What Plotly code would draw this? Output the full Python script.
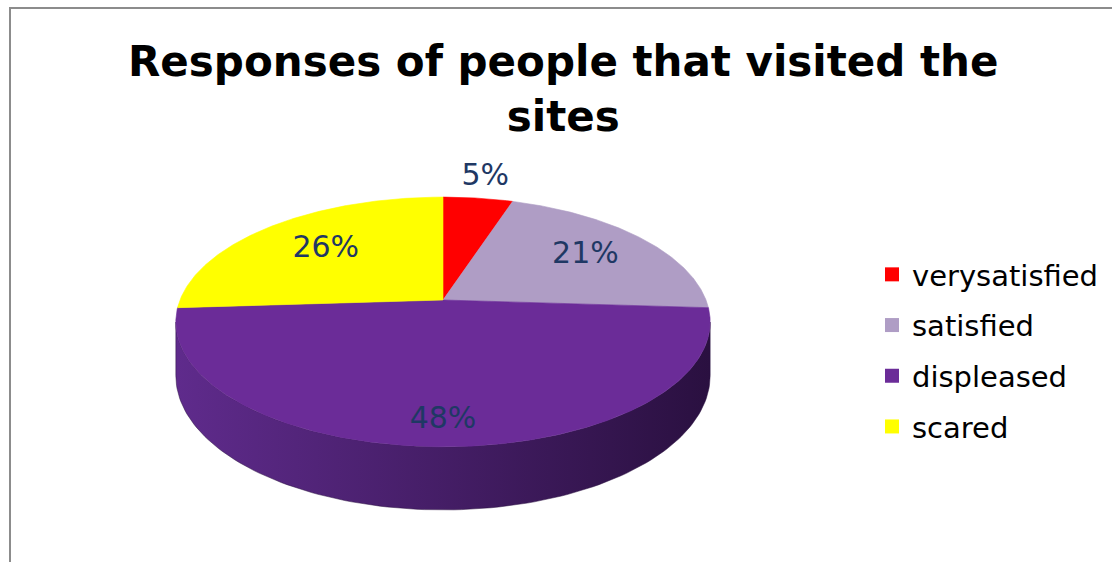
import numpy as np
import plotly.graph_objects as go

# ---- data ----
categories = ["verysatisfied", "satisfied", "displeased", "scared"]
values = [5, 21, 48, 26]
title_text = "Responses of people that visited the<br>sites"

# ---- styles ----
top_colors = ["#FF0000", "#AF9DC5", "#6B2C98", "#FFFF00"]
side_colors = [("#C00000", "#800000"), ("#8A7AA0", "#5A4D6B"),
               ("#5F2B8C", "#2A1040"), ("#C8C800", "#8A8A00")]
label_r = [1.25, 0.70, 0.85, 0.66]
label_color = "#1F3864"
FONT = "DejaVu Sans, Verdana, sans-serif"

W, H = 1112, 562
CX, CY = 443, 300          # pie apex in pixel space
BX, AY = 263, 121          # horizontal / vertical radii
K = 0.176                  # perspective factor
DEPTH = 52                 # pie thickness


def proj(theta_deg, r=1.0):
    t = np.radians(theta_deg)
    u = r * np.sin(t)
    v = r * np.cos(t)
    d = 1 + K * v
    return CX + BX * u / d, CY - AY * v / d, d


total = float(sum(values))
bounds = np.concatenate([[0], np.cumsum(values)]) / total * 360.0
theta_w = np.degrees(np.arccos(-K))   # silhouette angle of the rim

fig = go.Figure()

# sides (visible front part only, drawn first)
for i, cat in enumerate(categories):
    lo = max(bounds[i], theta_w)
    hi = min(bounds[i + 1], 360.0 - theta_w)
    if lo >= hi:
        continue
    th = np.linspace(lo, hi, 120)
    xt, yt, d = proj(th)
    yb = yt + DEPTH / d
    xs = np.concatenate([xt, xt[::-1], xt[:1]])
    ys = np.concatenate([yt, yb[::-1], yt[:1]])
    fig.add_trace(go.Scatter(
        x=xs, y=ys, mode="lines", fill="toself",
        line=dict(width=0.5, color=side_colors[i][1]),
        fillgradient=dict(type="horizontal",
                          colorscale=[[0, side_colors[i][0]], [1, side_colors[i][1]]]),
        hoverinfo="skip", showlegend=False))

# top faces
for i, cat in enumerate(categories):
    n = max(int((bounds[i + 1] - bounds[i]) * 2), 10)
    th = np.linspace(bounds[i], bounds[i + 1], n)
    xa, ya, _ = proj(th)
    xs = np.concatenate([[CX], xa, [CX]])
    ys = np.concatenate([[CY], ya, [CY]])
    fig.add_trace(go.Scatter(
        x=xs, y=ys, mode="lines", fill="toself", fillcolor=top_colors[i],
        line=dict(width=0.6, color=top_colors[i]),
        name=cat, hoverinfo="name", showlegend=False))

# data labels
mids = (bounds[:-1] + bounds[1:]) / 2
lx, ly = [], []
for i in range(len(values)):
    x, y, _ = proj(mids[i], label_r[i])
    lx.append(x)
    ly.append(y)
fig.add_trace(go.Scatter(
    x=lx, y=ly, mode="text", text=[f"{v}%" for v in values],
    textposition="middle center",
    textfont=dict(family=FONT, size=30, color=label_color),
    hoverinfo="skip", showlegend=False))

# legend entries
for i, cat in enumerate(categories):
    fig.add_trace(go.Scatter(
        x=[None], y=[None], mode="markers", name=cat, legendgroup=cat,
        marker=dict(symbol="square", size=14, color=top_colors[i])))

fig.update_layout(
    width=W, height=H, autosize=False,
    margin=dict(l=0, r=0, t=0, b=0),
    paper_bgcolor="white", plot_bgcolor="white",
    xaxis=dict(range=[0, W], visible=False, fixedrange=True),
    yaxis=dict(range=[H, 0], visible=False, fixedrange=True),
    title=dict(text=title_text, x=0.5065, xanchor="center",
               y=1 - 76 / H, yanchor="top",
               font=dict(family=FONT, size=42, color="black", weight="bold")),
    legend=dict(x=872 / W, xanchor="left", y=1 - 249 / H, yanchor="top",
                font=dict(family=FONT, size=29, color="black"),
                tracegroupgap=10, bgcolor="rgba(0,0,0,0)"),
    shapes=[dict(type="rect", xref="x", yref="y", x0=10, y0=8, x1=W + 20, y1=H + 20,
                 line=dict(color="#8C8C8C", width=2), fillcolor="rgba(0,0,0,0)",
                 layer="above")],
    showlegend=True,
)

fig.write_html("out.html")
